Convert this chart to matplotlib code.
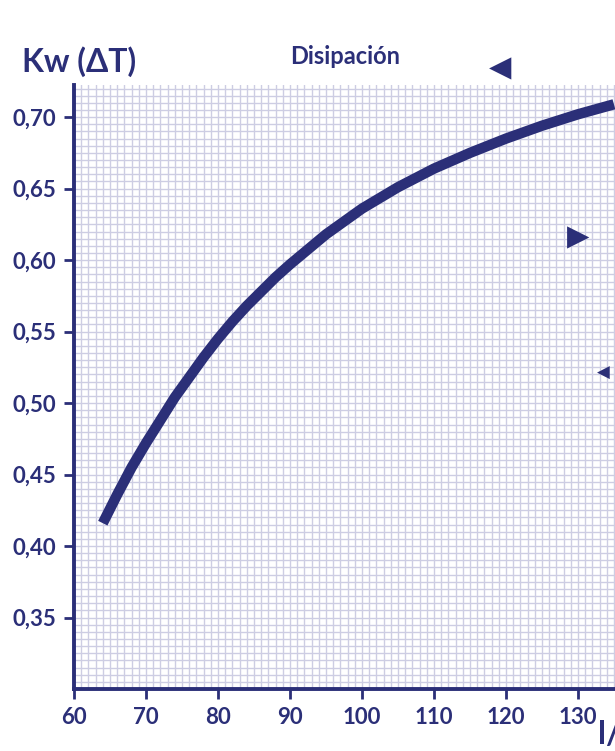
import matplotlib.pyplot as plt
from matplotlib.ticker import MultipleLocator, FuncFormatter

navy = '#2b2f78'
grid_col = '#cdcde3'

# curve
caudal = [64, 66, 68, 70, 72, 74, 76, 78, 80, 82, 84, 86, 88, 90, 95, 100,
          105, 110, 115, 120, 125, 130, 135]
kw = [0.416, 0.436, 0.455, 0.472, 0.488, 0.504, 0.518, 0.532, 0.545, 0.557,
      0.568, 0.578, 0.588, 0.597, 0.618, 0.636, 0.651, 0.664, 0.675, 0.685,
      0.694, 0.702, 0.709]

xticks = [60, 70, 80, 90, 100, 110, 120, 130]
yticks = [0.35, 0.40, 0.45, 0.50, 0.55, 0.60, 0.65, 0.70]

plt.rcParams['font.family'] = ['Lato', 'DejaVu Sans']

fig = plt.figure(figsize=(6.15, 7.51), dpi=100)
ax = fig.add_axes([74 / 615, 1 - 689 / 751, 1 - 74 / 615, (689 - 85) / 751])

ax.plot(caudal, kw, color=navy, lw=7.5, solid_capstyle='butt',
        solid_joinstyle='round', zorder=3)

ax.set_xlim(60, 135.15)
ax.set_ylim(0.30, 0.7225)
ax.set_xticks(xticks)
ax.set_yticks(yticks)
ax.xaxis.set_minor_locator(MultipleLocator(1))
ax.yaxis.set_minor_locator(MultipleLocator(0.005))
ax.yaxis.set_major_formatter(FuncFormatter(lambda v, p: f'{v:.2f}'.replace('.', ',')))

ax.grid(which='both', color=grid_col, lw=1.0, zorder=0)
ax.set_axisbelow(True)
ax.tick_params(which='minor', length=0)
ax.tick_params(which='major', length=7, width=2, color=navy, direction='out',
               labelsize=16, labelcolor=navy, pad=6)
for lab in ax.get_xticklabels() + ax.get_yticklabels():
    lab.set_fontweight('bold')

for s in ['top', 'right']:
    ax.spines[s].set_visible(False)
for s in ['left', 'bottom']:
    ax.spines[s].set_color(navy)
    ax.spines[s].set_linewidth(2.8)

fig.text(22 / 615, 1 - 62 / 751, 'Kw (ΔT)', color=navy, fontsize=23,
         fontweight='bold', va='center', ha='left')
fig.text(345 / 615, 1 - 56 / 751, 'Disipación', color=navy, fontsize=17,
         fontweight='bold', va='center', ha='center')
fig.text(598 / 615, 1 - 735 / 751, 'l/h', color=navy, fontsize=23,
         fontweight='bold', va='center', ha='left')

fig.text(500 / 615, 1 - 68 / 751, '◀', color=navy, fontsize=21,
         va='center', ha='center', family='DejaVu Sans')
fig.text(578 / 615, 1 - 237 / 751, '▶', color=navy, fontsize=21,
         va='center', ha='center', family='DejaVu Sans')
fig.text(603 / 615, 1 - 373 / 751, '◀', color=navy, fontsize=12,
         va='center', ha='center', family='DejaVu Sans')

fig.savefig('out.png', dpi=100)
